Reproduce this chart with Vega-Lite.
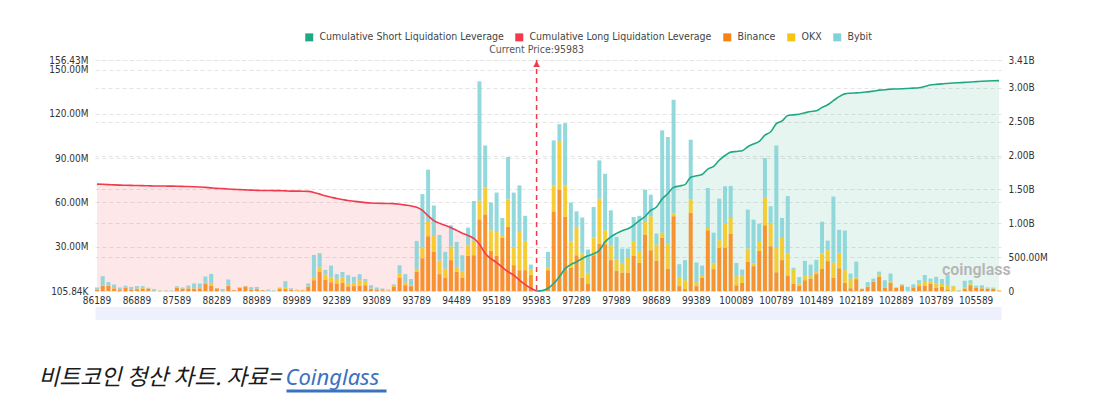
{
"$schema": "https://vega.github.io/schema/vega-lite/v6.json",
"width": 906, "height": 231,
"padding": {"left": 38, "top": 32, "right": 5, "bottom": 4},
"config": {"view": {"stroke": null}, "font": "Liberation Sans Narrow, DejaVu Sans Condensed, sans-serif"},
"datasets": {"exchangeOrder": [{"key": "Binance", "rank": 1}, {"key": "OKX", "rank": 2}, {"key": "Bybit", "rank": 3}]},
"data": {"values": [
{"p":86189,"Binance":1.1,"OKX":0.3,"Bybit":1.1,"L":1.578},
{"p":86289,"Binance":3.6,"OKX":0.4,"Bybit":6.1,"L":1.575},
{"p":86389,"Binance":3.6,"OKX":0.3,"Bybit":2.2,"L":1.571},
{"p":86489,"Binance":1.8,"OKX":0.3,"Bybit":2.4,"L":1.566},
{"p":86589,"Binance":1.1,"OKX":0.3,"Bybit":1.1,"L":1.563},
{"p":86689,"Binance":2.3,"OKX":0.3,"Bybit":1.0,"L":1.561},
{"p":86789,"Binance":1.1,"OKX":0.3,"Bybit":1.5,"L":1.559},
{"p":86889,"Binance":1.4,"OKX":0.4,"Bybit":1.6,"L":1.557},
{"p":86989,"Binance":1.6,"OKX":0.7,"Bybit":1.1,"L":1.555},
{"p":87089,"Binance":1.6,"OKX":0.2,"Bybit":0.5,"L":1.553},
{"p":87189,"Binance":0.2,"OKX":0.1,"Bybit":1.1,"L":1.551},
{"p":87289,"Binance":0.1,"OKX":0.2,"Bybit":0.2,"L":1.55},
{"p":87389,"Binance":0.1,"OKX":0.2,"Bybit":0.2,"L":1.549},
{"p":87489,"Binance":0.1,"OKX":0.2,"Bybit":0.2,"L":1.548},
{"p":87589,"Binance":2.3,"OKX":0.6,"Bybit":0.5,"L":1.546},
{"p":87689,"Binance":1.6,"OKX":0.2,"Bybit":0.7,"L":1.544},
{"p":87789,"Binance":1.8,"OKX":0.2,"Bybit":1.8,"L":1.542},
{"p":87889,"Binance":1.6,"OKX":0.3,"Bybit":3.3,"L":1.539},
{"p":87989,"Binance":1.8,"OKX":0.3,"Bybit":3.1,"L":1.535},
{"p":88089,"Binance":5.2,"OKX":0.4,"Bybit":4.3,"L":1.53},
{"p":88189,"Binance":3.6,"OKX":1.4,"Bybit":6.7,"L":1.522},
{"p":88289,"Binance":1.8,"OKX":0.1,"Bybit":0.1,"L":1.515},
{"p":88389,"Binance":0.1,"OKX":0.1,"Bybit":1.2,"L":1.512},
{"p":88489,"Binance":3.6,"OKX":0.4,"Bybit":3.9,"L":1.505},
{"p":88589,"Binance":0.6,"OKX":0.05,"Bybit":0.05,"L":1.5},
{"p":88689,"Binance":2.3,"OKX":0.1,"Bybit":0.1,"L":1.497},
{"p":88789,"Binance":3.2,"OKX":0.1,"Bybit":0.1,"L":1.493},
{"p":88889,"Binance":1.1,"OKX":0.2,"Bybit":1.4,"L":1.489},
{"p":88989,"Binance":1.4,"OKX":0.2,"Bybit":1.3,"L":1.486},
{"p":89089,"Binance":0.6,"OKX":0.1,"Bybit":0,"L":1.484},
{"p":89189,"Binance":0.1,"OKX":0.1,"Bybit":0.9,"L":1.483},
{"p":89289,"Binance":0.1,"OKX":0.1,"Bybit":0.3,"L":1.482},
{"p":89489,"Binance":1.6,"OKX":0.7,"Bybit":0.2,"L":1.481},
{"p":89689,"Binance":1.4,"OKX":0.9,"Bybit":4.5,"L":1.478},
{"p":89889,"Binance":0.9,"OKX":0.2,"Bybit":0.9,"L":1.475},
{"p":89989,"Binance":0.4,"OKX":0.6,"Bybit":0.1,"L":1.474},
{"p":90289,"Binance":0.5,"OKX":0.3,"Bybit":0.1,"L":1.473},
{"p":90689,"Binance":2.9,"OKX":0.3,"Bybit":2.0,"L":1.47},
{"p":91089,"Binance":7.4,"OKX":2.1,"Bybit":15.0,"L":1.455},
{"p":91489,"Binance":13,"OKX":3,"Bybit":9.7,"L":1.43},
{"p":91889,"Binance":7.6,"OKX":3.7,"Bybit":3.1,"L":1.405},
{"p":92289,"Binance":6.0,"OKX":3.2,"Bybit":8.1,"L":1.385},
{"p":92389,"Binance":5.2,"OKX":3.1,"Bybit":3.2,"L":1.365},
{"p":92489,"Binance":5.6,"OKX":3.6,"Bybit":3.8,"L":1.35},
{"p":92589,"Binance":3.2,"OKX":2.4,"Bybit":5.2,"L":1.335},
{"p":92689,"Binance":3.4,"OKX":2.2,"Bybit":4.1,"L":1.325},
{"p":92789,"Binance":3.6,"OKX":3.8,"Bybit":4.1,"L":1.315},
{"p":92889,"Binance":4.0,"OKX":2.3,"Bybit":1.9,"L":1.305},
{"p":92989,"Binance":1.4,"OKX":0.4,"Bybit":2.2,"L":1.298},
{"p":93089,"Binance":1.1,"OKX":0.2,"Bybit":1.2,"L":1.295},
{"p":93189,"Binance":0.6,"OKX":0.2,"Bybit":1.0,"L":1.293},
{"p":93289,"Binance":0.4,"OKX":0.2,"Bybit":0.5,"L":1.292},
{"p":93389,"Binance":2.9,"OKX":0.7,"Bybit":1.0,"L":1.29},
{"p":93489,"Binance":9.2,"OKX":2.5,"Bybit":5.8,"L":1.28},
{"p":93589,"Binance":4.0,"OKX":1.9,"Bybit":5.6,"L":1.268},
{"p":93689,"Binance":3.4,"OKX":0.4,"Bybit":4.4,"L":1.255},
{"p":93789,"Binance":13,"OKX":1.8,"Bybit":19.2,"L":1.235},
{"p":93889,"Binance":22.3,"OKX":7.1,"Bybit":36.3,"L":1.19},
{"p":93989,"Binance":37.2,"OKX":9.6,"Bybit":35.4,"L":1.11},
{"p":94089,"Binance":26.6,"OKX":10.7,"Bybit":20.7,"L":1.04},
{"p":94189,"Binance":11.5,"OKX":9.2,"Bybit":17.3,"L":1.0},
{"p":94289,"Binance":9.2,"OKX":6.1,"Bybit":11.3,"L":0.97},
{"p":94389,"Binance":21,"OKX":9.2,"Bybit":14.4,"L":0.935},
{"p":94489,"Binance":13,"OKX":3.4,"Bybit":16.9,"L":0.895},
{"p":94589,"Binance":9.2,"OKX":4.3,"Bybit":10.8,"L":0.853},
{"p":94689,"Binance":23.9,"OKX":7.1,"Bybit":12,"L":0.82},
{"p":94789,"Binance":24.3,"OKX":9.9,"Bybit":26.8,"L":0.777},
{"p":94889,"Binance":48.6,"OKX":12.7,"Bybit":80.7,"L":0.69},
{"p":94989,"Binance":52,"OKX":18,"Bybit":28.6,"L":0.555},
{"p":95089,"Binance":27.3,"OKX":13.9,"Bybit":18.8,"L":0.478},
{"p":95189,"Binance":23.9,"OKX":16.1,"Bybit":26.7,"L":0.42},
{"p":95289,"Binance":36,"OKX":2,"Bybit":11.5,"L":0.35},
{"p":95389,"Binance":43.5,"OKX":18.5,"Bybit":28.8,"L":0.285},
{"p":95489,"Binance":17.6,"OKX":12.4,"Bybit":36.7,"L":0.235},
{"p":95589,"Binance":14.2,"OKX":25.8,"Bybit":31.6,"L":0.16},
{"p":95689,"Binance":14.2,"OKX":19.8,"Bybit":17,"L":0.095},
{"p":95789,"Binance":11,"OKX":3.5,"Bybit":3.5,"L":0.04},
{"p":95983,"Binance":0,"OKX":0,"Bybit":0,"L":0,"S":0},
{"p":96089,"Binance":0,"OKX":0,"Bybit":0,"S":0.005},
{"p":96289,"Binance":14.2,"OKX":1.6,"Bybit":10.8,"S":0.04},
{"p":96489,"Binance":54,"OKX":17.4,"Bybit":30.6,"S":0.11},
{"p":96689,"Binance":68.7,"OKX":32.3,"Bybit":12,"S":0.21},
{"p":96889,"Binance":50.2,"OKX":21.4,"Bybit":42.1,"S":0.33},
{"p":97189,"Binance":15.8,"OKX":18,"Bybit":26.2,"S":0.39},
{"p":97289,"Binance":24.3,"OKX":19.2,"Bybit":10.5,"S":0.43},
{"p":97389,"Binance":9,"OKX":16.5,"Bybit":24.3,"S":0.48},
{"p":97489,"Binance":5.2,"OKX":7.2,"Bybit":15.8,"S":0.52},
{"p":97589,"Binance":24.3,"OKX":12,"Bybit":20.7,"S":0.55},
{"p":97689,"Binance":32.2,"OKX":30.4,"Bybit":25.9,"S":0.6},
{"p":97789,"Binance":31.8,"OKX":9.4,"Bybit":38.3,"S":0.725},
{"p":97889,"Binance":21,"OKX":10,"Bybit":23.7,"S":0.8},
{"p":97989,"Binance":13.7,"OKX":7.7,"Bybit":15.3,"S":0.85},
{"p":98089,"Binance":12.6,"OKX":6.5,"Bybit":9.7,"S":0.89},
{"p":98189,"Binance":12.4,"OKX":10.1,"Bybit":6.3,"S":0.92},
{"p":98289,"Binance":23.9,"OKX":9.7,"Bybit":16.6,"S":0.97},
{"p":98389,"Binance":19.1,"OKX":7.9,"Bybit":24,"S":1.04},
{"p":98489,"Binance":38.3,"OKX":8.5,"Bybit":21.9,"S":1.1},
{"p":98589,"Binance":27.7,"OKX":23,"Bybit":14.6,"S":1.19},
{"p":98689,"Binance":20.5,"OKX":11,"Bybit":7.5,"S":1.24},
{"p":98789,"Binance":36,"OKX":3.6,"Bybit":69.2,"S":1.36},
{"p":98889,"Binance":15.1,"OKX":16.7,"Bybit":72.5,"S":1.44},
{"p":98989,"Binance":50.7,"OKX":1.8,"Bybit":77,"S":1.53},
{"p":99089,"Binance":3.4,"OKX":6.3,"Bybit":8.5,"S":1.55},
{"p":99189,"Binance":1.4,"OKX":6,"Bybit":13.6,"S":1.57},
{"p":99289,"Binance":53,"OKX":9,"Bybit":40.5,"S":1.68},
{"p":99389,"Binance":3.4,"OKX":2.7,"Bybit":13.3,"S":1.7},
{"p":99489,"Binance":9,"OKX":1.4,"Bybit":6.9,"S":1.72},
{"p":99589,"Binance":41.2,"OKX":1.6,"Bybit":27,"S":1.8},
{"p":99689,"Binance":14.9,"OKX":3.8,"Bybit":20.9,"S":1.84},
{"p":99789,"Binance":29.3,"OKX":5.2,"Bybit":28.1,"S":1.93},
{"p":99889,"Binance":29.5,"OKX":16.2,"Bybit":25.3,"S":2.0},
{"p":99989,"Binance":39,"OKX":10.5,"Bybit":21.7,"S":2.05},
{"p":100089,"Binance":4,"OKX":6.1,"Bybit":9,"S":2.06},
{"p":100189,"Binance":5.6,"OKX":5.2,"Bybit":3.8,"S":2.07},
{"p":100289,"Binance":19.8,"OKX":9,"Bybit":26.4,"S":2.13},
{"p":100389,"Binance":16.9,"OKX":1.8,"Bybit":29.7,"S":2.17},
{"p":100489,"Binance":27.3,"OKX":6,"Bybit":12.4,"S":2.21},
{"p":100589,"Binance":44.6,"OKX":19.1,"Bybit":26.3,"S":2.3},
{"p":100689,"Binance":30.4,"OKX":15.8,"Bybit":11.2,"S":2.35},
{"p":100789,"Binance":12.8,"OKX":16.5,"Bybit":69.3,"S":2.47},
{"p":100889,"Binance":21,"OKX":15,"Bybit":13.5,"S":2.51},
{"p":100989,"Binance":10.6,"OKX":14.9,"Bybit":38.8,"S":2.59},
{"p":101089,"Binance":5.2,"OKX":9.6,"Bybit":1.0,"S":2.6},
{"p":101189,"Binance":3.6,"OKX":1.6,"Bybit":4.3,"S":2.61},
{"p":101289,"Binance":7.4,"OKX":2.8,"Bybit":10.3,"S":2.63},
{"p":101389,"Binance":8.5,"OKX":1.7,"Bybit":7.8,"S":2.65},
{"p":101489,"Binance":11.5,"OKX":1.5,"Bybit":8.2,"S":2.66},
{"p":101589,"Binance":15,"OKX":10.5,"Bybit":21.5,"S":2.71},
{"p":101689,"Binance":20.3,"OKX":7.4,"Bybit":6.5,"S":2.75},
{"p":101789,"Binance":9,"OKX":10.3,"Bybit":44.7,"S":2.81},
{"p":101889,"Binance":15.5,"OKX":10,"Bybit":16,"S":2.87},
{"p":101989,"Binance":5.6,"OKX":8.6,"Bybit":26.8,"S":2.91},
{"p":102089,"Binance":2,"OKX":6.4,"Bybit":3.5,"S":2.92},
{"p":102189,"Binance":8.1,"OKX":1.4,"Bybit":10.5,"S":2.925},
{"p":102289,"Binance":1.4,"OKX":0.2,"Bybit":0.1,"S":2.93},
{"p":102389,"Binance":2.9,"OKX":0.3,"Bybit":2.9,"S":2.94},
{"p":102489,"Binance":6.3,"OKX":0.3,"Bybit":1.9,"S":2.95},
{"p":102589,"Binance":9.7,"OKX":1.6,"Bybit":1.9,"S":2.965},
{"p":102689,"Binance":2.4,"OKX":0.3,"Bybit":4.7,"S":2.97},
{"p":102789,"Binance":5.7,"OKX":1.1,"Bybit":5.1,"S":2.98},
{"p":102889,"Binance":2.2,"OKX":0.2,"Bybit":0.1,"S":2.982},
{"p":102989,"Binance":3.9,"OKX":0.3,"Bybit":0.4,"S":2.985},
{"p":103089,"Binance":0.1,"OKX":0.1,"Bybit":2.7,"S":2.99},
{"p":103189,"Binance":2.5,"OKX":0.2,"Bybit":1.9,"S":2.995},
{"p":103289,"Binance":3.4,"OKX":1.8,"Bybit":2.2,"S":3.0},
{"p":103489,"Binance":3.6,"OKX":3.2,"Bybit":4.1,"S":3.02},
{"p":103689,"Binance":5,"OKX":1.8,"Bybit":1.7,"S":3.04},
{"p":103789,"Binance":2.2,"OKX":3,"Bybit":4.5,"S":3.05},
{"p":103989,"Binance":2.9,"OKX":2.6,"Bybit":2.7,"S":3.058},
{"p":104189,"Binance":1.1,"OKX":2.8,"Bybit":7.4,"S":3.064},
{"p":104489,"Binance":0.3,"OKX":3,"Bybit":0.3,"S":3.07},
{"p":104789,"Binance":0.2,"OKX":0.3,"Bybit":0.2,"S":3.075},
{"p":105089,"Binance":1.7,"OKX":1,"Bybit":4.3,"S":3.08},
{"p":105389,"Binance":4,"OKX":1.2,"Bybit":2.2,"S":3.086},
{"p":105589,"Binance":2.4,"OKX":0.3,"Bybit":1,"S":3.091},
{"p":105689,"Binance":1.8,"OKX":0.3,"Bybit":1.9,"S":3.096},
{"p":105789,"Binance":1.5,"OKX":0.3,"Bybit":0.7,"S":3.1},
{"p":105889,"Binance":1.5,"OKX":0.4,"Bybit":0.5,"S":3.103},
{"p":105989,"Binance":0.3,"OKX":0.4,"Bybit":0,"S":3.105}
]},
"layer": [
{"mark": {"type": "area", "interpolate": "monotone", "color": "#f23a4d", "opacity": 0.12},
 "encoding": {
  "x": {"field": "p", "type": "ordinal", "scale": {"type": "band", "paddingInner": 0.3, "paddingOuter": 0},
   "axis": {"orient": "bottom", "title": "비트코인 청산 차트. 자료=", "titleX": -57, "titleY": 71, "titleAlign": "left", "titleAnchor": "start", "titleBaseline": "alphabetic", "titleFont": "Noto Sans CJK KR", "titleFontSize": 22.6, "titleFontStyle": "italic", "titleFontWeight": "normal", "titleColor": "#1a1a1a", "labels": false, "ticks": false, "grid": false, "domain": true, "domainColor": "#eef1fd", "domainWidth": 13, "offset": 22}},
  "y": {"field": "L", "type": "quantitative", "scale": {"domain": [0, 3.41], "nice": false}, "axis": null}}},
{"mark": {"type": "area", "interpolate": "monotone", "color": "#20a884", "opacity": 0.11},
 "encoding": {
  "x": {"field": "p", "type": "ordinal", "axis": null},
  "y": {"field": "S", "type": "quantitative", "scale": {"domain": [0, 3.41], "nice": false}, "axis": null}}},
{"transform": [
  {"fold": ["Binance", "OKX", "Bybit"]},
  {"lookup": "key", "from": {"data": {"name": "exchangeOrder"}, "key": "key", "fields": ["rank"]}}
 ],
 "mark": {"type": "bar", "opacity": 0.85},
 "encoding": {
  "x": {"field": "p", "type": "ordinal",
   "axis": {"orient": "bottom", "values": [86189, 86889, 87589, 88289, 88989, 89989, 92389, 93089, 93789, 94489, 95189, 95983, 97289, 97989, 98689, 99389, 100089, 100789, 101489, 102189, 102889, 103789, 105589], "labelExpr": "'' + datum.value", "labelAngle": 0, "labelFontSize": 10, "labelColor": "#333", "labelPadding": 4, "ticks": false, "domain": false, "title": null, "grid": false, "labelOverlap": false}},
  "y": {"field": "value", "type": "quantitative", "stack": "zero", "scale": {"domain": [0.10584, 156.43], "nice": false, "zero": false},
   "axis": {"orient": "left", "values": [0.10584, 30, 60, 90, 120, 150, 156.43], "labelExpr": "datum.value < 1 ? '105.84K' : format(datum.value, '.2f') + 'M'", "title": null, "grid": true, "gridColor": "#e4e4e4", "gridDash": [4, 3], "domain": false, "ticks": false, "labelPadding": 7, "labelFontSize": 10, "labelColor": "#333", "labelOverlap": false}},
  "order": {"field": "rank", "type": "quantitative", "sort": "ascending"},
  "color": {"field": "key", "type": "nominal",
   "scale": {"domain": ["Cumulative Short Liquidation Leverage", "Cumulative Long Liquidation Leverage", "Binance", "OKX", "Bybit"], "range": ["#20a884", "#f23a4d", "#f7820f", "#f6c412", "#80d2d6"]},
   "legend": {"orient": "none", "legendX": 209, "legendY": -28, "direction": "horizontal", "title": null, "symbolType": "square", "symbolSize": 64, "symbolOpacity": 1, "symbolStrokeWidth": 0, "labelFontSize": 10.5, "labelLimit": 400, "labelColor": "#444", "columnPadding": 10, "labelOffset": 5, "padding": 0}}}},
{"data": {"values": [{}]},
 "mark": {"type": "rule", "color": "#f23a4d", "strokeDash": [5, 4], "strokeWidth": 1.5},
 "encoding": {"x": {"datum": 95983, "type": "ordinal", "axis": null}}},
{"mark": {"type": "line", "interpolate": "monotone", "color": "#f23a4d", "strokeWidth": 1.6},
 "encoding": {
  "x": {"field": "p", "type": "ordinal",
   "axis": {"orient": "bottom", "title": "Coinglass", "titleX": 190, "titleY": -5, "titleAlign": "left", "titleAnchor": "start", "titleBaseline": "alphabetic", "titleFont": "Noto Sans", "titleFontSize": 22, "titleFontStyle": "italic", "titleFontWeight": "normal", "titleColor": "#3a72c0", "labels": false, "domain": false, "grid": false, "ticks": true, "values": [92389], "tickSize": 3, "tickWidth": 100, "tickColor": "#3a72c0", "offset": 98}},
  "y": {"field": "L", "type": "quantitative", "scale": {"domain": [0, 3.41], "nice": false},
   "axis": {"orient": "right", "values": [0, 0.5, 1, 1.5, 2, 2.5, 3, 3.41], "labelExpr": "datum.value == 0 ? '0' : (datum.value < 1 ? format(datum.value * 1000, '.2f') + 'M' : format(datum.value, '.2f') + 'B')", "title": null, "grid": true, "gridColor": "#e4e4e4", "gridDash": [4, 3], "domain": false, "ticks": false, "labelPadding": 7, "labelFontSize": 10, "labelColor": "#333", "labelOverlap": false}}}},
{"mark": {"type": "line", "interpolate": "monotone", "color": "#20a884", "strokeWidth": 1.6},
 "encoding": {
  "x": {"field": "p", "type": "ordinal", "axis": null},
  "y": {"field": "S", "type": "quantitative", "scale": {"domain": [0, 3.41], "nice": false}, "axis": null}}},
{"data": {"values": [{}]},
 "mark": {"type": "point", "shape": "triangle-up", "filled": true, "size": 45, "color": "#f23a4d", "opacity": 1, "yOffset": 4},
 "encoding": {
  "x": {"datum": 95983, "type": "ordinal", "axis": null},
  "y": {"datum": 156.43, "type": "quantitative", "scale": {"domain": [0.10584, 156.43], "nice": false, "zero": false}, "axis": null}}},
{"data": {"values": [{}]},
 "mark": {"type": "text", "text": "Current Price:95983", "baseline": "bottom", "dy": -5, "fontSize": 10.5, "color": "#555"},
 "encoding": {
  "x": {"datum": 95983, "type": "ordinal", "axis": null},
  "y": {"datum": 156.43, "type": "quantitative", "scale": {"domain": [0.10584, 156.43], "nice": false, "zero": false}, "axis": null}}},
{"data": {"values": [{}]},
 "mark": {"type": "text", "text": "coinglass", "align": "left", "baseline": "middle", "fontSize": 16, "fontWeight": 600, "font": "Roboto", "color": "#b5b5b5"},
 "encoding": {
  "x": {"datum": 103989, "type": "ordinal", "axis": null},
  "y": {"datum": 14.2, "type": "quantitative", "scale": {"domain": [0.10584, 156.43], "nice": false, "zero": false}, "axis": null}}}
],
"resolve": {"scale": {"y": "independent"}, "axis": {"x": "independent", "y": "independent"}}
}
